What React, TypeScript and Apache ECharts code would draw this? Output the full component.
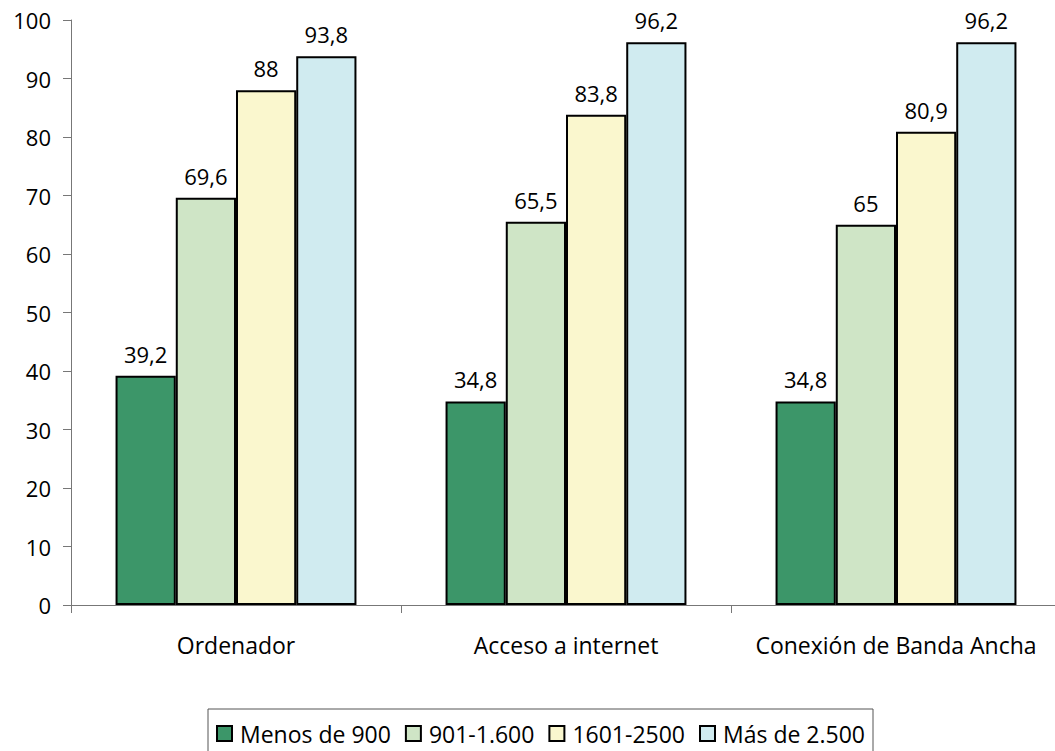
import React, { useEffect, useRef } from "react";
import * as echarts from "echarts";

const categories = ["Ordenador", "Acceso a internet", "Conexión de Banda Ancha"];
const seriesNames = ["Menos de 900", "901-1.600", "1601-2500", "Más de 2.500"];
const menos900 = [39.2, 34.8, 34.8];
const s901_1600 = [69.6, 65.5, 65];
const s1601_2500 = [88, 83.8, 80.9];
const mas2500 = [93.8, 96.2, 96.2];
const colors = ["#3C9669", "#CFE5C6", "#FAF7CE", "#D0EBF0"];

const FONT = "Open Sans";

export default function App() {
  const ref = useRef<HTMLDivElement>(null);
  useEffect(() => {
    if (!ref.current) return;
    const chart = echarts.init(ref.current, undefined, { renderer: "svg" });
    const data = [menos900, s901_1600, s1601_2500, mas2500];
    chart.setOption({
      animation: false,
      textStyle: { fontFamily: FONT },
      grid: { left: 71, top: 20, right: -6, height: 585, containLabel: false, outerBoundsMode: "none" },
      legend: {
        top: 709,
        left: 208,
        itemGap: 14,
        itemWidth: 15,
        itemHeight: 15,
        padding: [13, 8, 30, 8],
        borderColor: "#555",
        borderWidth: 1,
        icon: "rect",
        itemStyle: { borderColor: "#000", borderWidth: 2 },
        textStyle: { fontSize: 23, color: "#000", fontFamily: FONT, padding: [0, 0, 0, 3] },
        data: seriesNames,
      },
      xAxis: {
        type: "category",
        data: categories,
        axisLine: { lineStyle: { color: "#777", width: 1 } },
        axisTick: { show: true, length: 8, interval: 0, lineStyle: { color: "#777" } },
        axisLabel: { fontSize: 23, color: "#000", margin: 28, interval: 0, fontFamily: FONT },
      },
      yAxis: {
        type: "value",
        min: 0,
        max: 100,
        interval: 10,
        splitLine: { show: false },
        axisLine: { show: true, lineStyle: { color: "#777", width: 1 } },
        axisTick: { show: true, inside: false, length: 8, lineStyle: { color: "#777" } },
        axisLabel: { fontSize: 22, color: "#000", margin: 20, fontFamily: FONT },
      },
      series: seriesNames.map((name, i) => ({
        name,
        type: "bar",
        data: data[i],
        barGap: "0%",
        barCategoryGap: "27%",
        itemStyle: { color: colors[i], borderColor: "#000", borderWidth: 2 },
        label: {
          show: true,
          position: "top",
          distance: 11,
          fontSize: 22,
          color: "#000",
          fontFamily: FONT,
          formatter: (p: any) => String(p.value).replace(".", ","),
        },
      })),
    });
    return () => chart.dispose();
  }, []);
  return (
    <div
      ref={ref}
      style={{ position: "fixed", left: 0, top: 0, width: 1055, height: 751, background: "#fff" }}
    />
  );
}
